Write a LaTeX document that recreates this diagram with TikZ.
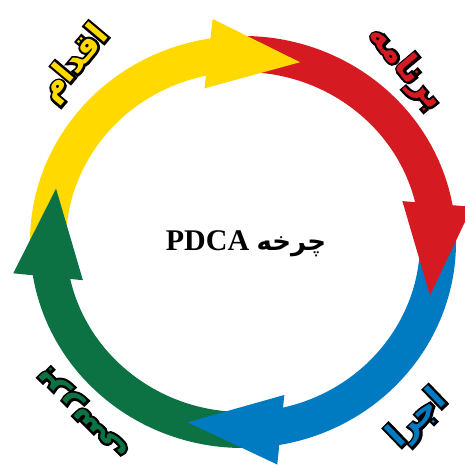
\documentclass[tikz,border=0pt]{standalone}
\usepackage{fontspec}
\setmainfont{Liberation Serif}
\newfontfamily\arabicfont[Script=Arabic]{DejaVu Sans}
\newfontfamily\arabicthick[Script=Arabic,FakeBold=14]{DejaVu Sans Bold}
\TeXXeTstate=1
\definecolor{pred}{RGB}{214,26,34}
\definecolor{pyellow}{RGB}{255,217,0}
\definecolor{pblue}{RGB}{0,122,192}
\definecolor{pgreen}{RGB}{12,114,68}
\tikzset{
  band/.style={line width=36pt},
  lbl/.style={inner sep=0pt, font=\arabicfont\bfseries\fontsize{33}{33}\selectfont},
  lblout/.style={inner sep=0pt, font=\arabicthick\fontsize{33}{33}\selectfont},
}
\newcommand\olabel[5]{%
  \node[lblout,rotate=#3,text=black] (#1o) at (#2) {\beginR #5\endR};
  \node[lbl,rotate=#3,text=#4] (#1) at (#2) {\beginR #5\endR};
}
\begin{document}
\begin{tikzpicture}[x=1pt,y=1pt]
\useasboundingbox (0,0) rectangle (465,469);
\coordinate (O) at (243,227);
% bodies
\foreach \s/\e/\c in {95.5/8/pred, 7/-82.5/pblue, -83.5/-173/pgreen, 186/96.5/pyellow}
  \draw[band, \c] ([shift={(O)}]\s:195pt and 188pt) arc[start angle=\s, end angle=\e, x radius=195pt, y radius=188pt];
% heads
\foreach \b/\t/\c in {12/-16.5/pred, 100.5/73/pyellow, 191/163.5/pgreen, -78.5/-106.5/pblue}{
  \pgfmathsetmacro\bi{\b+3}
  \pgfmathsetmacro\bo{\b-3}
  \fill[\c] ([shift={(O)}]\bi:165pt and 158pt) -- ([shift={(O)}]\bo:232pt and 225pt) -- ([shift={(O)}]\t:195pt and 188pt) -- cycle;
}
% labels
\olabel{act}{75,405}{50}{pyellow}{اقدام}
\olabel{plan}{406,401}{-50}{pred}{برنامه}
\olabel{do}{418,50}{44}{pblue}{اجرا}
\olabel{check}{84,57}{135}{pgreen}{بررسی}
% centre
\node[font=\bfseries\fontsize{30}{30}\selectfont] (title) at (246,225) {\beginR{\arabicfont\bfseries\fontsize{26}{26}\selectfont چرخه} \beginL PDCA\endL\endR};
\end{tikzpicture}
\end{document}
